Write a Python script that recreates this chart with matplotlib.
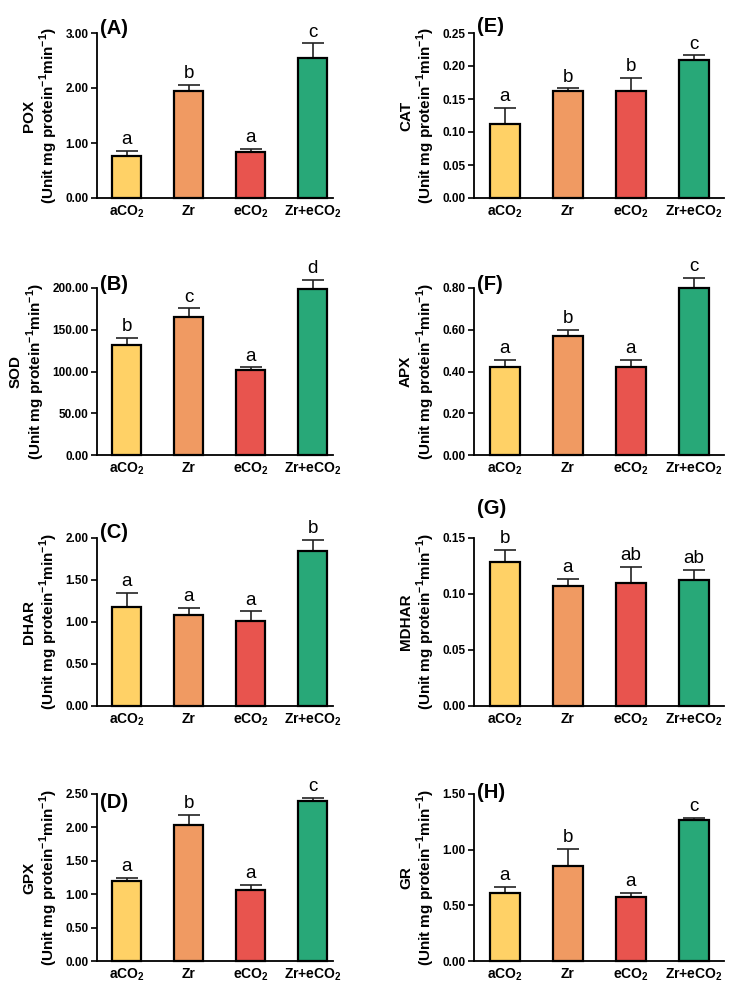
import numpy as np
import matplotlib
matplotlib.use("Agg")
import matplotlib.pyplot as plt

plt.rcParams["font.family"] = ["Liberation Sans", "DejaVu Sans"]
plt.rcParams["mathtext.fontset"] = "custom"
plt.rcParams["mathtext.rm"] = "Liberation Sans"
plt.rcParams["mathtext.bf"] = "Liberation Sans:bold"

## Data -------------------
groups = [r"aCO$_\mathbf{2}$", "Zr", r"eCO$_\mathbf{2}$", r"Zr+eCO$_\mathbf{2}$"]
colors = ["#FFD166", "#F09A62", "#E8544E", "#28A878"]

panels = ["(A)", "(B)", "(C)", "(D)", "(E)", "(F)", "(G)", "(H)"]
enzymes = ["POX", "SOD", "DHAR", "GPX", "CAT", "APX", "MDHAR", "GR"]

pox = [0.77, 1.94, 0.84, 2.55]
pox_err = [0.09, 0.11, 0.06, 0.26]
pox_let = ["a", "b", "a", "c"]

sod = [131.6, 164.8, 102.0, 199.2]
sod_err = [8.8, 10.8, 2.8, 10.4]
sod_let = ["b", "c", "a", "d"]

dhar = [1.18, 1.085, 1.006, 1.845]
dhar_err = [0.165, 0.085, 0.12, 0.13]
dhar_let = ["a", "a", "a", "b"]

gpx = [1.20, 2.035, 1.07, 2.40]
gpx_err = [0.045, 0.155, 0.075, 0.045]
gpx_let = ["a", "b", "a", "c"]

cat = [0.112, 0.162, 0.162, 0.209]
cat_err = [0.025, 0.004, 0.020, 0.007]
cat_let = ["a", "b", "b", "c"]

apx = [0.421, 0.572, 0.422, 0.800]
apx_err = [0.036, 0.027, 0.035, 0.049]
apx_let = ["a", "b", "a", "c"]

mdhar = [0.1286, 0.1069, 0.1099, 0.1123]
mdhar_err = [0.0107, 0.0065, 0.0145, 0.0092]
mdhar_let = ["b", "a", "ab", "ab"]

gr = [0.615, 0.854, 0.574, 1.264]
gr_err = [0.054, 0.153, 0.036, 0.024]
gr_let = ["a", "b", "a", "c"]

values = [pox, sod, dhar, gpx, cat, apx, mdhar, gr]
errors = [pox_err, sod_err, dhar_err, gpx_err, cat_err, apx_err, mdhar_err, gr_err]
letters = [pox_let, sod_let, dhar_let, gpx_let, cat_let, apx_let, mdhar_let, gr_let]

yticks = [
    [0, 1, 2, 3],
    [0, 50, 100, 150, 200],
    [0, 0.5, 1.0, 1.5, 2.0],
    [0, 0.5, 1.0, 1.5, 2.0, 2.5],
    [0, 0.05, 0.10, 0.15, 0.20, 0.25],
    [0, 0.2, 0.4, 0.6, 0.8],
    [0, 0.05, 0.10, 0.15],
    [0, 0.5, 1.0, 1.5],
]

## Layout -----------------
W, H = 733, 990
fig = plt.figure(figsize=(W / 100, H / 100), dpi=100)

# left column / right column axes in pixels: (x0, x1)
cols = [(97, 333), (474, 724)]
# rows: (top pixel, bottom pixel)
rows = [(33, 198), (288, 455), (538, 706), (794, 961)]
# x limits per column
xlims = [(-0.48, 3.33), (-0.49, 3.48)]
# vertical position of the panel label (pixel) per panel
label_y = [29, 284, 532, 802, 27, 284, 509, 793]

ylab = r"(Unit mg protein$^{\mathbf{-1}}$min$^{\mathbf{-1}}$)"
x = np.arange(4)

for i in range(8):
    c = i // 4
    r = i % 4
    x0, x1 = cols[c]
    t, b = rows[r]
    ax = fig.add_axes([x0 / W, 1 - b / H, (x1 - x0) / W, (b - t) / H])

    ax.bar(x, values[i], width=0.47, color=colors, edgecolor="black",
           linewidth=1.6, zorder=2, clip_on=False)
    ax.errorbar(x, values[i], yerr=[np.zeros(4), errors[i]], fmt="none",
                ecolor="#222222", elinewidth=1.2, capsize=8, capthick=1.2,
                zorder=1, clip_on=False)
    for k in range(4):
        ax.annotate(letters[i][k], (x[k], values[i][k] + errors[i][k]),
                    xytext=(0, 2), textcoords="offset points",
                    ha="center", va="bottom", fontsize=13.5,
                    annotation_clip=False)

    ax.set_ylim(0, yticks[i][-1])
    ax.set_yticks(yticks[i])
    ax.set_yticklabels(["%.2f" % v for v in yticks[i]], fontweight="bold",
                       fontsize=8.5)
    ax.set_xlim(*xlims[c])
    ax.set_xticks(x)
    ax.set_xticklabels(groups, fontweight="bold", fontsize=10)
    ax.tick_params(axis="x", length=0, pad=4)
    ax.tick_params(axis="y", length=4, width=1.2, pad=2)
    for s in ["top", "right"]:
        ax.spines[s].set_visible(False)
    for s in ["left", "bottom"]:
        ax.spines[s].set_linewidth(1.3)

    ax.set_ylabel(enzymes[i] + "\n" + ylab, fontsize=11, fontweight="bold",
                  labelpad=4, linespacing=1.1)

    fig.text((x0 + 3) / W, 1 - label_y[i] / H, panels[i], fontsize=14.5,
             fontweight="bold", ha="left", va="center")

fig.savefig("out.png", dpi=100)
